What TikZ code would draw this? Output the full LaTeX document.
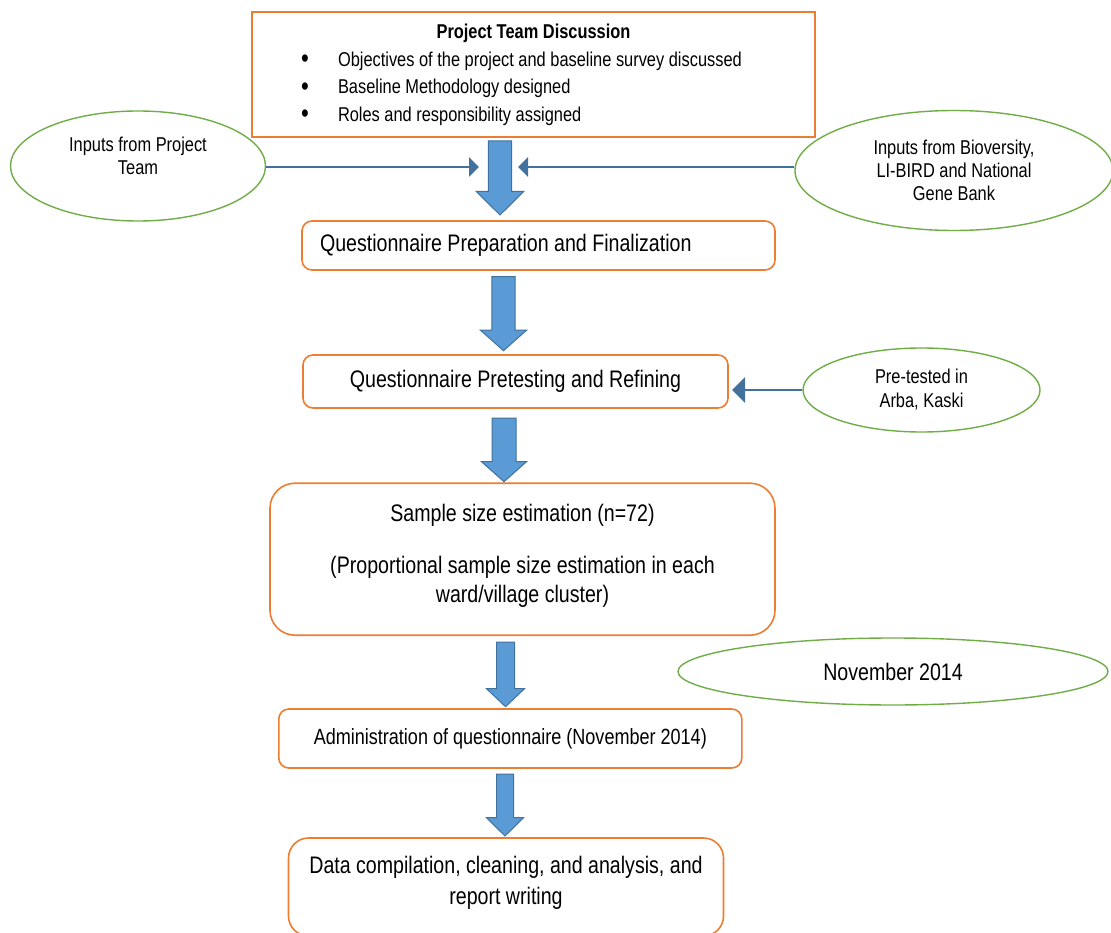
\documentclass[tikz,border=0pt]{standalone}
\usepackage{fontspec}
\setmainfont{Liberation Sans}[FakeStretch=0.82]
\usetikzlibrary{shapes.geometric, arrows.meta}

\definecolor{boxorange}{HTML}{ED7D31}
\definecolor{ellgreen}{HTML}{70AD47}
\definecolor{arrfill}{HTML}{5B9BD5}
\definecolor{arrline}{HTML}{41719C}

% block arrow: x, top, tip, half shaft, half head, head length
\newcommand{\blockarrow}[6]{%
  \draw[bigarrow] (#1-#4,#2) -- (#1+#4,#2) -- (#1+#4,#3-#6) -- (#1+#5,#3-#6)
    -- (#1,#3) -- (#1-#5,#3-#6) -- (#1-#4,#3-#6) -- cycle;}
\newcommand{\teambullet}{\hspace*{49pt}\makebox[37pt][l]{\raisebox{-1.5pt}{\fontsize{27}{0}\selectfont\textbullet}}}

\tikzset{
  stagebox/.style={draw=boxorange, line width=1.6pt, rounded corners=10pt, inner sep=0pt,
    align=center, font=\fontsize{23.9}{29}\selectfont},
  inputell/.style={draw=ellgreen, line width=1.4pt, ellipse, inner sep=0pt,
    align=center, font=\fontsize{20}{23}\selectfont},
  bigarrow/.style={draw=arrline, fill=arrfill, line width=1pt},
  thinarrow/.style={draw=arrline, line width=2.6pt},
}

\begin{document}
\begin{tikzpicture}[x=1pt, y=-1pt]
	\clip (0,0) rectangle (1111,933);
	\fill[white] (0,0) rectangle (1111,933);

	\node[draw=boxorange, line width=1.6pt, minimum width=563pt, minimum height=125pt, inner sep=0pt] (team) at (533.5,74.6)
		{\parbox{563pt}{\fontsize{20}{27.5}\selectfont
		\centering\textbf{Project Team Discussion}\par\raggedright
		\teambullet Objectives of the project and baseline survey discussed\par
		\teambullet Baseline Methodology designed\par
		\teambullet Roles and responsibility assigned\par}};

	\node[inputell, minimum width=255pt, minimum height=110pt] (inTeam) at (138,166)
		{\begin{tabular}{@{}c@{}}Inputs from Project\\Team\\[16pt]\end{tabular}};
	\node[inputell, minimum width=318pt, minimum height=120pt] (inBio) at (954,170.5) {Inputs from Bioversity,\\LI-BIRD and National\\Gene Bank};
	\node[inputell, minimum width=237pt, minimum height=84pt, font=\fontsize{20}{24}\selectfont] (pretestEll) at (921.5,390)
		{Pre-tested in\\Arba, Kaski};
	\node[inputell, minimum width=430pt, minimum height=67pt, font=\fontsize{23.9}{29}\selectfont] (novEll) at (893,671.5) {November 2014};

	\node[stagebox, minimum width=473pt, minimum height=49pt] (prep) at (538.5,245.5)
		{\makebox[437pt][l]{Questionnaire Preparation and Finalization}};
	\node[stagebox, minimum width=425pt, minimum height=53pt] (pretest) at (515.5,381.5)
		{Questionnaire Pretesting and Refining};
	\node[stagebox, rounded corners=25pt, minimum width=505pt, minimum height=152pt] (sample) at (522.5,559.2)
		{\begin{tabular}{@{}c@{}}Sample size estimation (n=72)\\[23pt]
		(Proportional sample size estimation in each\\ward/village cluster)\\[7pt]\end{tabular}};
	\node[stagebox, minimum width=463pt, minimum height=59pt, font=\fontsize{22}{27}\selectfont] (admin) at (510.3,738.5)
		{Administration of questionnaire (November 2014)};
	\node[stagebox, rounded corners=20pt, minimum width=435pt, minimum height=98pt, font=\fontsize{23.9}{31.6}\selectfont] (report) at (506,887)
		{\begin{tabular}{@{}c@{}}Data compilation, cleaning, and analysis, and\\report writing\\[9pt]\end{tabular}};

	% thin input arrows
	\coordinate (tipL) at (479,167);
	\coordinate (tipR) at (518,167);
	\coordinate (tipP) at (732,390);
	\draw[thinarrow, -{Triangle[width=19pt,length=10pt]}] ([yshift=-1pt]inTeam.east) -- (tipL);
	\draw[thinarrow, -{Triangle[width=19pt,length=10pt]}] ([yshift=3.5pt]inBio.west) -- (tipR);
	\draw[thinarrow, -{Triangle[width=25pt,length=13pt]}] (pretestEll.west) -- (tipP);

	% block arrows
	\blockarrow{500}{141}{215}{11.7}{23.7}{23.5}
	\blockarrow{503.5}{276.7}{350.7}{11.7}{23.3}{20.7}
	\blockarrow{504}{418}{481.7}{12}{22.5}{20}
	\blockarrow{505.5}{642}{706.7}{9}{19}{18}
	\blockarrow{505}{774}{836}{8.5}{18.5}{18.3}
\end{tikzpicture}
\end{document}
